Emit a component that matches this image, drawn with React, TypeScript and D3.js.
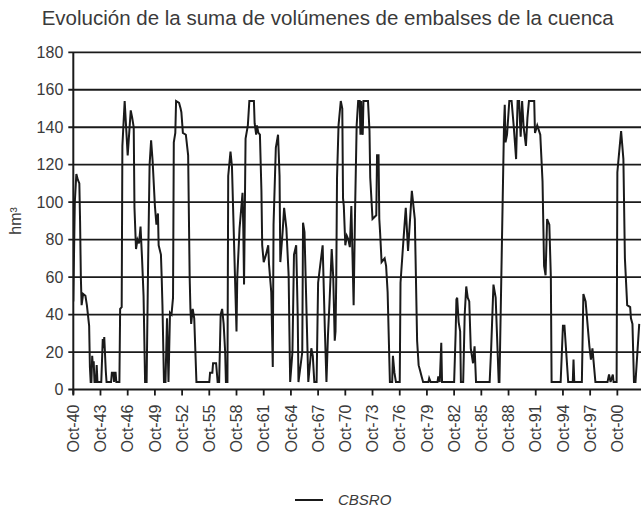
import React from 'react';
import * as d3 from 'd3';

// Suma de volúmenes de embalses (hm3), por décadas
const cbsro1940s: [string, number][] = [
  ['1940-10', 47], ['1940-12', 100], ['1941-02', 115], ['1941-04', 112], ['1941-06', 110],
  ['1941-07', 90], ['1941-08', 60], ['1941-09', 45], ['1941-11', 51], ['1942-02', 50],
  ['1942-04', 45], ['1942-07', 34], ['1942-08', 12], ['1942-09', 4], ['1942-10', 4],
  ['1942-11', 18], ['1942-12', 12], ['1943-01', 15], ['1943-02', 4], ['1943-04', 4],
  ['1943-05', 13], ['1943-06', 4], ['1943-11', 4], ['1944-01', 27], ['1944-02', 22],
  ['1944-03', 28], ['1944-05', 10], ['1944-06', 4], ['1944-12', 4], ['1945-01', 9],
  ['1945-03', 9], ['1945-04', 4], ['1945-05', 9], ['1945-06', 9], ['1945-07', 4],
  ['1945-11', 4], ['1945-12', 43], ['1946-02', 44], ['1946-03', 130], ['1946-06', 154],
  ['1946-10', 125], ['1947-02', 149], ['1947-04', 145], ['1947-06', 140], ['1947-07', 97],
  ['1947-09', 75], ['1947-11', 80], ['1948-01', 78], ['1948-03', 87], ['1948-05', 70],
  ['1948-07', 50], ['1948-09', 4], ['1948-11', 4], ['1949-01', 68], ['1949-03', 120],
  ['1949-05', 133], ['1949-07', 122], ['1949-10', 98], ['1949-12', 88],
];

const cbsro1950s: [string, number][] = [
  ['1950-02', 94], ['1950-03', 77], ['1950-06', 72], ['1950-07', 60], ['1950-08', 45],
  ['1950-10', 4], ['1950-12', 4], ['1951-02', 38], ['1951-04', 4], ['1951-06', 41],
  ['1951-08', 40], ['1951-10', 49], ['1951-11', 132], ['1952-01', 137], ['1952-02', 154],
  ['1952-06', 153], ['1952-08', 150], ['1952-09', 148], ['1952-11', 137], ['1953-03', 136],
  ['1953-06', 125], ['1953-08', 60], ['1953-09', 43], ['1953-10', 35], ['1953-12', 43],
  ['1954-02', 38], ['1954-05', 4], ['1955-10', 4], ['1955-11', 9], ['1956-02', 9],
  ['1956-03', 14], ['1956-07', 14], ['1956-09', 4], ['1956-11', 4], ['1957-01', 40],
  ['1957-03', 43], ['1957-05', 35], ['1957-07', 20], ['1957-08', 4], ['1957-10', 4],
  ['1957-11', 114], ['1958-02', 127], ['1958-04', 119], ['1958-08', 60], ['1958-10', 31],
  ['1958-11', 60], ['1959-02', 86], ['1959-06', 105], ['1959-07', 86], ['1959-08', 56],
  ['1959-10', 134],
];

const cbsro1960s: [string, number][] = [
  ['1960-01', 141], ['1960-03', 154], ['1960-09', 154], ['1960-10', 142], ['1960-12', 136],
  ['1961-01', 141], ['1961-03', 137], ['1961-05', 136], ['1961-07', 106], ['1961-08', 77],
  ['1961-10', 68], ['1962-01', 72], ['1962-04', 77], ['1962-05', 67], ['1962-08', 52],
  ['1962-10', 12], ['1962-11', 88], ['1963-02', 129], ['1963-05', 136], ['1963-07', 114],
  ['1963-08', 68], ['1963-11', 84], ['1964-01', 97], ['1964-04', 86], ['1964-07', 61],
  ['1964-08', 31], ['1964-09', 4], ['1964-12', 20], ['1965-02', 72], ['1965-05', 77],
  ['1965-07', 40], ['1965-08', 4], ['1966-01', 20], ['1966-02', 89], ['1966-04', 84],
  ['1966-06', 52], ['1966-09', 4], ['1967-01', 22], ['1967-03', 18], ['1967-05', 4],
  ['1967-08', 4], ['1967-10', 57], ['1968-04', 77], ['1968-06', 46], ['1968-07', 31],
  ['1968-09', 4], ['1968-11', 29], ['1969-01', 46], ['1969-04', 75], ['1969-06', 60],
  ['1969-08', 26], ['1969-09', 31], ['1969-10', 59], ['1969-11', 113],
];

const cbsro1970s: [string, number][] = [
  ['1970-01', 141], ['1970-04', 154], ['1970-06', 150], ['1970-07', 102], ['1970-08', 98],
  ['1970-10', 77], ['1970-12', 82], ['1971-02', 80], ['1971-04', 76], ['1971-06', 98],
  ['1971-09', 45], ['1971-11', 98], ['1972-01', 141], ['1972-03', 154], ['1972-05', 154],
  ['1972-06', 136], ['1972-07', 154], ['1972-08', 137], ['1972-09', 136], ['1972-10', 154],
  ['1973-04', 154], ['1973-06', 138], ['1973-07', 113], ['1973-10', 91], ['1974-03', 93],
  ['1974-04', 125], ['1974-06', 125], ['1974-07', 91], ['1974-08', 84], ['1974-10', 68],
  ['1975-02', 70], ['1975-04', 66], ['1975-06', 52], ['1975-09', 4], ['1975-12', 4],
  ['1976-01', 18], ['1976-03', 9], ['1976-05', 4], ['1976-10', 4], ['1976-11', 57],
  ['1977-03', 80], ['1977-06', 97], ['1977-09', 74], ['1978-02', 106], ['1978-06', 91],
  ['1978-09', 26], ['1978-11', 13], ['1979-01', 10], ['1979-03', 7], ['1979-05', 4],
  ['1979-12', 4],
];

const cbsro1980s: [string, number][] = [
  ['1980-01', 6], ['1980-03', 4], ['1980-12', 4], ['1981-01', 7], ['1981-03', 4],
  ['1981-05', 25], ['1981-06', 4], ['1982-10', 4], ['1982-12', 30], ['1983-01', 48],
  ['1983-02', 49], ['1983-04', 36], ['1983-06', 31], ['1983-07', 4], ['1983-10', 4],
  ['1983-12', 40], ['1984-02', 55], ['1984-04', 49], ['1984-06', 47], ['1984-08', 22],
  ['1984-11', 14], ['1985-01', 23], ['1985-03', 4], ['1986-09', 4], ['1986-11', 22],
  ['1987-02', 56], ['1987-05', 49], ['1987-09', 4], ['1987-10', 4], ['1988-04', 141],
  ['1988-05', 152], ['1988-06', 132], ['1988-08', 136], ['1988-11', 154], ['1989-02', 154],
  ['1989-05', 140], ['1989-08', 123], ['1989-10', 154], ['1989-12', 154],
];

const cbsro1990s: [string, number][] = [
  ['1990-02', 135], ['1990-04', 154], ['1990-06', 140], ['1990-09', 130], ['1990-11', 145],
  ['1991-01', 154], ['1991-08', 154], ['1991-09', 137], ['1991-12', 141], ['1992-04', 136],
  ['1992-07', 111], ['1992-09', 66], ['1992-11', 61], ['1993-01', 91], ['1993-04', 88],
  ['1993-06', 60], ['1993-07', 4], ['1994-07', 4], ['1994-10', 34], ['1994-12', 34],
  ['1995-05', 4], ['1995-11', 4], ['1995-12', 16], ['1996-01', 4], ['1996-11', 4],
  ['1997-01', 51], ['1997-04', 47], ['1997-09', 23], ['1997-11', 16], ['1998-01', 22],
  ['1998-05', 4], ['1999-09', 4], ['1999-11', 8],
];

const cbsro2000s: [string, number][] = [
  ['2000-01', 4], ['2000-04', 8], ['2000-05', 4], ['2000-09', 4], ['2000-10', 116],
  ['2000-12', 125], ['2001-03', 138], ['2001-06', 123], ['2001-08', 70], ['2001-11', 45],
  ['2002-03', 44], ['2002-04', 38], ['2002-06', 35], ['2002-08', 4], ['2002-10', 4],
  ['2003-03', 35],
];

const yTicks = [0, 20, 40, 60, 80, 100, 120, 140, 160, 180];
const xTickYears = [1940, 1943, 1946, 1949, 1952, 1955, 1958, 1961, 1964, 1967, 1970,
  1973, 1976, 1979, 1982, 1985, 1988, 1991, 1994, 1997, 2000];

const title = 'Evolución de la suma de volúmenes de embalses de la cuenca';
const seriesName = 'CBSRO';

const width = 641;
const height = 511;
const left = 73.3;
const right = 640;
const top = 52.3;
const bottom = 389.5;
const font = '"Liberation Sans", Arial, Helvetica, sans-serif';
const ink = '#1a1a1a';
const textColor = '#3a3a3a';

const App = () => {
  const parse = d3.timeParse('%Y-%m');
  const data = [...cbsro1940s, ...cbsro1950s, ...cbsro1960s, ...cbsro1970s,
    ...cbsro1980s, ...cbsro1990s, ...cbsro2000s]
    .map(([m, v]) => ({ date: parse(m) as Date, value: v }));

  const x = d3.scaleTime()
    .domain([new Date(1940, 9, 1), new Date(2003, 3, 1)])
    .range([left, right]);
  const y = d3.scaleLinear().domain([0, 180]).range([bottom, top]);

  const line = d3.line<{ date: Date; value: number }>()
    .x((d) => x(d.date))
    .y((d) => y(d.value));

  const fmt = d3.timeFormat('%b-%y');

  return (
    <svg width={width} height={height}
      style={{ position: 'absolute', left: 0, top: 0, background: '#fff' }}
      fontFamily={font}>
      <defs>
        <clipPath id="plot">
          <rect x={left} y={top - 5} width={right - left + 1} height={bottom - top + 6} />
        </clipPath>
      </defs>

      <text x={41.7} y={25} fontSize={20.5} fill={textColor}>{title}</text>

      {/* gridlines + y ticks */}
      {yTicks.map((t) => (
        <g key={t}>
          <line x1={left - 5} x2={width} y1={y(t)} y2={y(t)} stroke={ink} strokeWidth={1.8} />
          <text x={left - 10} y={y(t)} dy="0.35em" textAnchor="end" fontSize={16} fill={textColor}>{t}</text>
        </g>
      ))}

      {/* y axis */}
      <line x1={left} x2={left} y1={top} y2={bottom + 5} stroke={ink} strokeWidth={2} />

      {/* x ticks */}
      {xTickYears.map((yr) => {
        const d = new Date(yr, 9, 1);
        const px = x(d);
        return (
          <g key={yr}>
            <line x1={px} x2={px} y1={bottom} y2={bottom + 6} stroke={ink} strokeWidth={1.8} />
            <text transform={`translate(${px},${bottom + 15}) rotate(-90)`} dy="0.35em"
              textAnchor="end" fontSize={16} fill={textColor}>{fmt(d)}</text>
          </g>
        );
      })}

      <text transform={`translate(15,${(top + bottom) / 2}) rotate(-90)`} dy="0.35em"
        textAnchor="middle" fontSize={16} fill={textColor}>hm³</text>

      <path d={line(data) ?? ''} fill="none" stroke={ink} strokeWidth={2}
        strokeLinejoin="miter" clipPath="url(#plot)" />

      {/* legend */}
      <line x1={295} x2={323} y1={500} y2={500} stroke={ink} strokeWidth={2} />
      <text x={338} y={500} dy="0.35em" fontSize={15} fontStyle="italic" fill={textColor}>{seriesName}</text>
    </svg>
  );
};

export default App;
